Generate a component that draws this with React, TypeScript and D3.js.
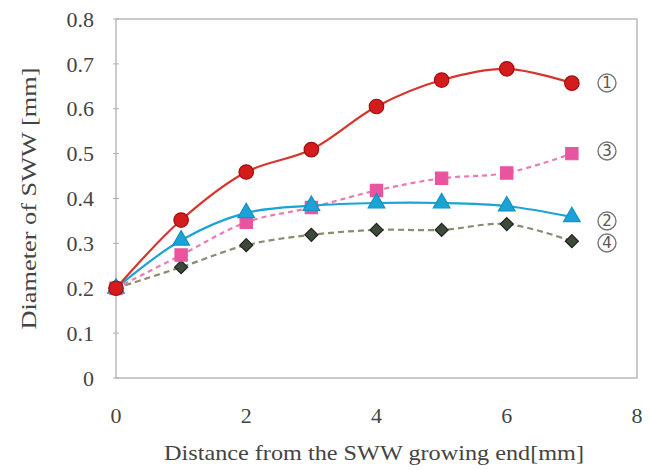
import React, { useRef, useEffect } from "react";
import * as d3 from "d3";

const distance = [0, 1, 2, 3, 4, 5, 6, 7];
const series1 = [0.2, 0.352, 0.459, 0.509, 0.605, 0.664, 0.689, 0.657];
const series2 = [0.2, 0.307, 0.368, 0.384, 0.39, 0.39, 0.383, 0.359];
const series3 = [0.2, 0.274, 0.347, 0.38, 0.418, 0.445, 0.457, 0.5];
const series4 = [0.2, 0.247, 0.296, 0.319, 0.33, 0.33, 0.343, 0.305];
const seriesLabels = ["1", "2", "3", "4"];
const xTicks = [0, 2, 4, 6, 8];
const yTicks = [0, 0.1, 0.2, 0.3, 0.4, 0.5, 0.6, 0.7, 0.8];

const App = () => {
  const svgRef = useRef<SVGSVGElement>(null);

  useEffect(() => {
    const svg = d3.select(svgRef.current);
    svg.selectAll("*").remove();

    const width = 651;
    const height = 470;
    const margin = { top: 19, right: 14, bottom: 92, left: 116 };
    const font = "'Liberation Serif', 'Times New Roman', serif";
    const textColor = "#444";

    const x = d3.scaleLinear().domain([0, 8]).range([margin.left, width - margin.right]);
    const y = d3.scaleLinear().domain([0, 0.8]).range([height - margin.bottom, margin.top]);

    svg.append("rect").attr("width", width).attr("height", height).attr("fill", "#fff");

    // frame
    svg.append("rect")
      .attr("x", x(0))
      .attr("y", y(0.8))
      .attr("width", x(8) - x(0))
      .attr("height", y(0) - y(0.8))
      .attr("fill", "none")
      .attr("stroke", "#b0b0b0")
      .attr("stroke-width", 1.3);

    // y ticks
    svg.selectAll(".ytick")
      .data(yTicks)
      .enter()
      .append("line")
      .attr("x1", x(0) - 3)
      .attr("x2", x(0) + 3)
      .attr("y1", (d) => y(d))
      .attr("y2", (d) => y(d))
      .attr("stroke", "#b0b0b0");

    svg.selectAll(".ylab")
      .data(yTicks)
      .enter()
      .append("text")
      .attr("x", 94)
      .attr("y", (d) => y(d))
      .attr("dy", "0.35em")
      .attr("text-anchor", "end")
      .attr("font-family", font)
      .attr("font-size", 22)
      .attr("fill", textColor)
      .text((d) => (d === 0 ? "0" : d.toFixed(1)));

    svg.selectAll(".xlab")
      .data(xTicks)
      .enter()
      .append("text")
      .attr("x", (d) => x(d))
      .attr("y", 423)
      .attr("text-anchor", "middle")
      .attr("font-family", font)
      .attr("font-size", 22)
      .attr("fill", textColor)
      .text((d) => d);

    svg.append("text")
      .attr("x", 374)
      .attr("y", 460)
      .attr("text-anchor", "middle")
      .attr("font-family", font)
      .attr("font-size", 22)
      .attr("textLength", 420)
      .attr("lengthAdjust", "spacingAndGlyphs")
      .attr("fill", textColor)
      .text("Distance from the SWW growing end[mm]");

    svg.append("text")
      .attr("transform", `translate(36, ${(y(0) + y(0.8)) / 2}) rotate(-90)`)
      .attr("text-anchor", "middle")
      .attr("font-family", font)
      .attr("font-size", 22)
      .attr("textLength", 262)
      .attr("lengthAdjust", "spacingAndGlyphs")
      .attr("fill", textColor)
      .text("Diameter of SWW [mm]");

    const line = d3.line<number>()
      .x((_, i) => x(distance[i]))
      .y((d) => y(d))
      .curve(d3.curveCatmullRom.alpha(0.5));

    const defs = [
      { data: series4, stroke: "#8c8c70", dash: "6,4", marker: d3.symbolSquare, rotate: 45, fill: "#3c4a3a", edge: "#222", size: 85 },
      { data: series3, stroke: "#ec79b3", dash: "5,4", marker: d3.symbolSquare, rotate: 0, fill: "#e8559e", edge: "#e8559e", size: 150 },
      { data: series2, stroke: "#1aa3d6", dash: null, marker: d3.symbolTriangle, rotate: 0, fill: "#1aa3d6", edge: "#1590c0", size: 120 },
      { data: series1, stroke: "#d9342c", dash: null, marker: d3.symbolCircle, rotate: 0, fill: "#d41c1c", edge: "#a00e0e", size: 165 },
    ];

    defs.forEach((s) => {
      const p = svg.append("path")
        .datum(s.data)
        .attr("d", line)
        .attr("fill", "none")
        .attr("stroke", s.stroke)
        .attr("stroke-width", 2.2);
      if (s.dash) p.attr("stroke-dasharray", s.dash);

      svg.selectAll(null)
        .data(s.data)
        .enter()
        .append("path")
        .attr("d", d3.symbol().type(s.marker).size(s.size))
        .attr("transform", (d, i) => `translate(${x(distance[i])}, ${y(d)}) rotate(${s.rotate})`)
        .attr("fill", s.fill)
        .attr("stroke", s.edge)
        .attr("stroke-width", 1.2);
    });

    // circled series numbers
    const labelPos = [
      { t: seriesLabels[0], y: 83 },
      { t: seriesLabels[2], y: 151 },
      { t: seriesLabels[1], y: 221 },
      { t: seriesLabels[3], y: 243 },
    ];
    const lab = svg.selectAll(".slab")
      .data(labelPos)
      .enter()
      .append("g")
      .attr("transform", (d) => `translate(607, ${d.y})`);
    lab.append("circle")
      .attr("r", 9)
      .attr("fill", "#fff")
      .attr("stroke", "#777")
      .attr("stroke-width", 1.4);
    lab.append("text")
      .attr("dy", "0.36em")
      .attr("text-anchor", "middle")
      .attr("font-family", "'DejaVu Sans', sans-serif")
      .attr("font-size", 15)
      .attr("fill", "#555")
      .text((d) => d.t);
  }, []);

  return (
    <svg ref={svgRef} width={651} height={470} style={{ position: "absolute", left: 0, top: 0 }}></svg>
  );
};

export default App;
